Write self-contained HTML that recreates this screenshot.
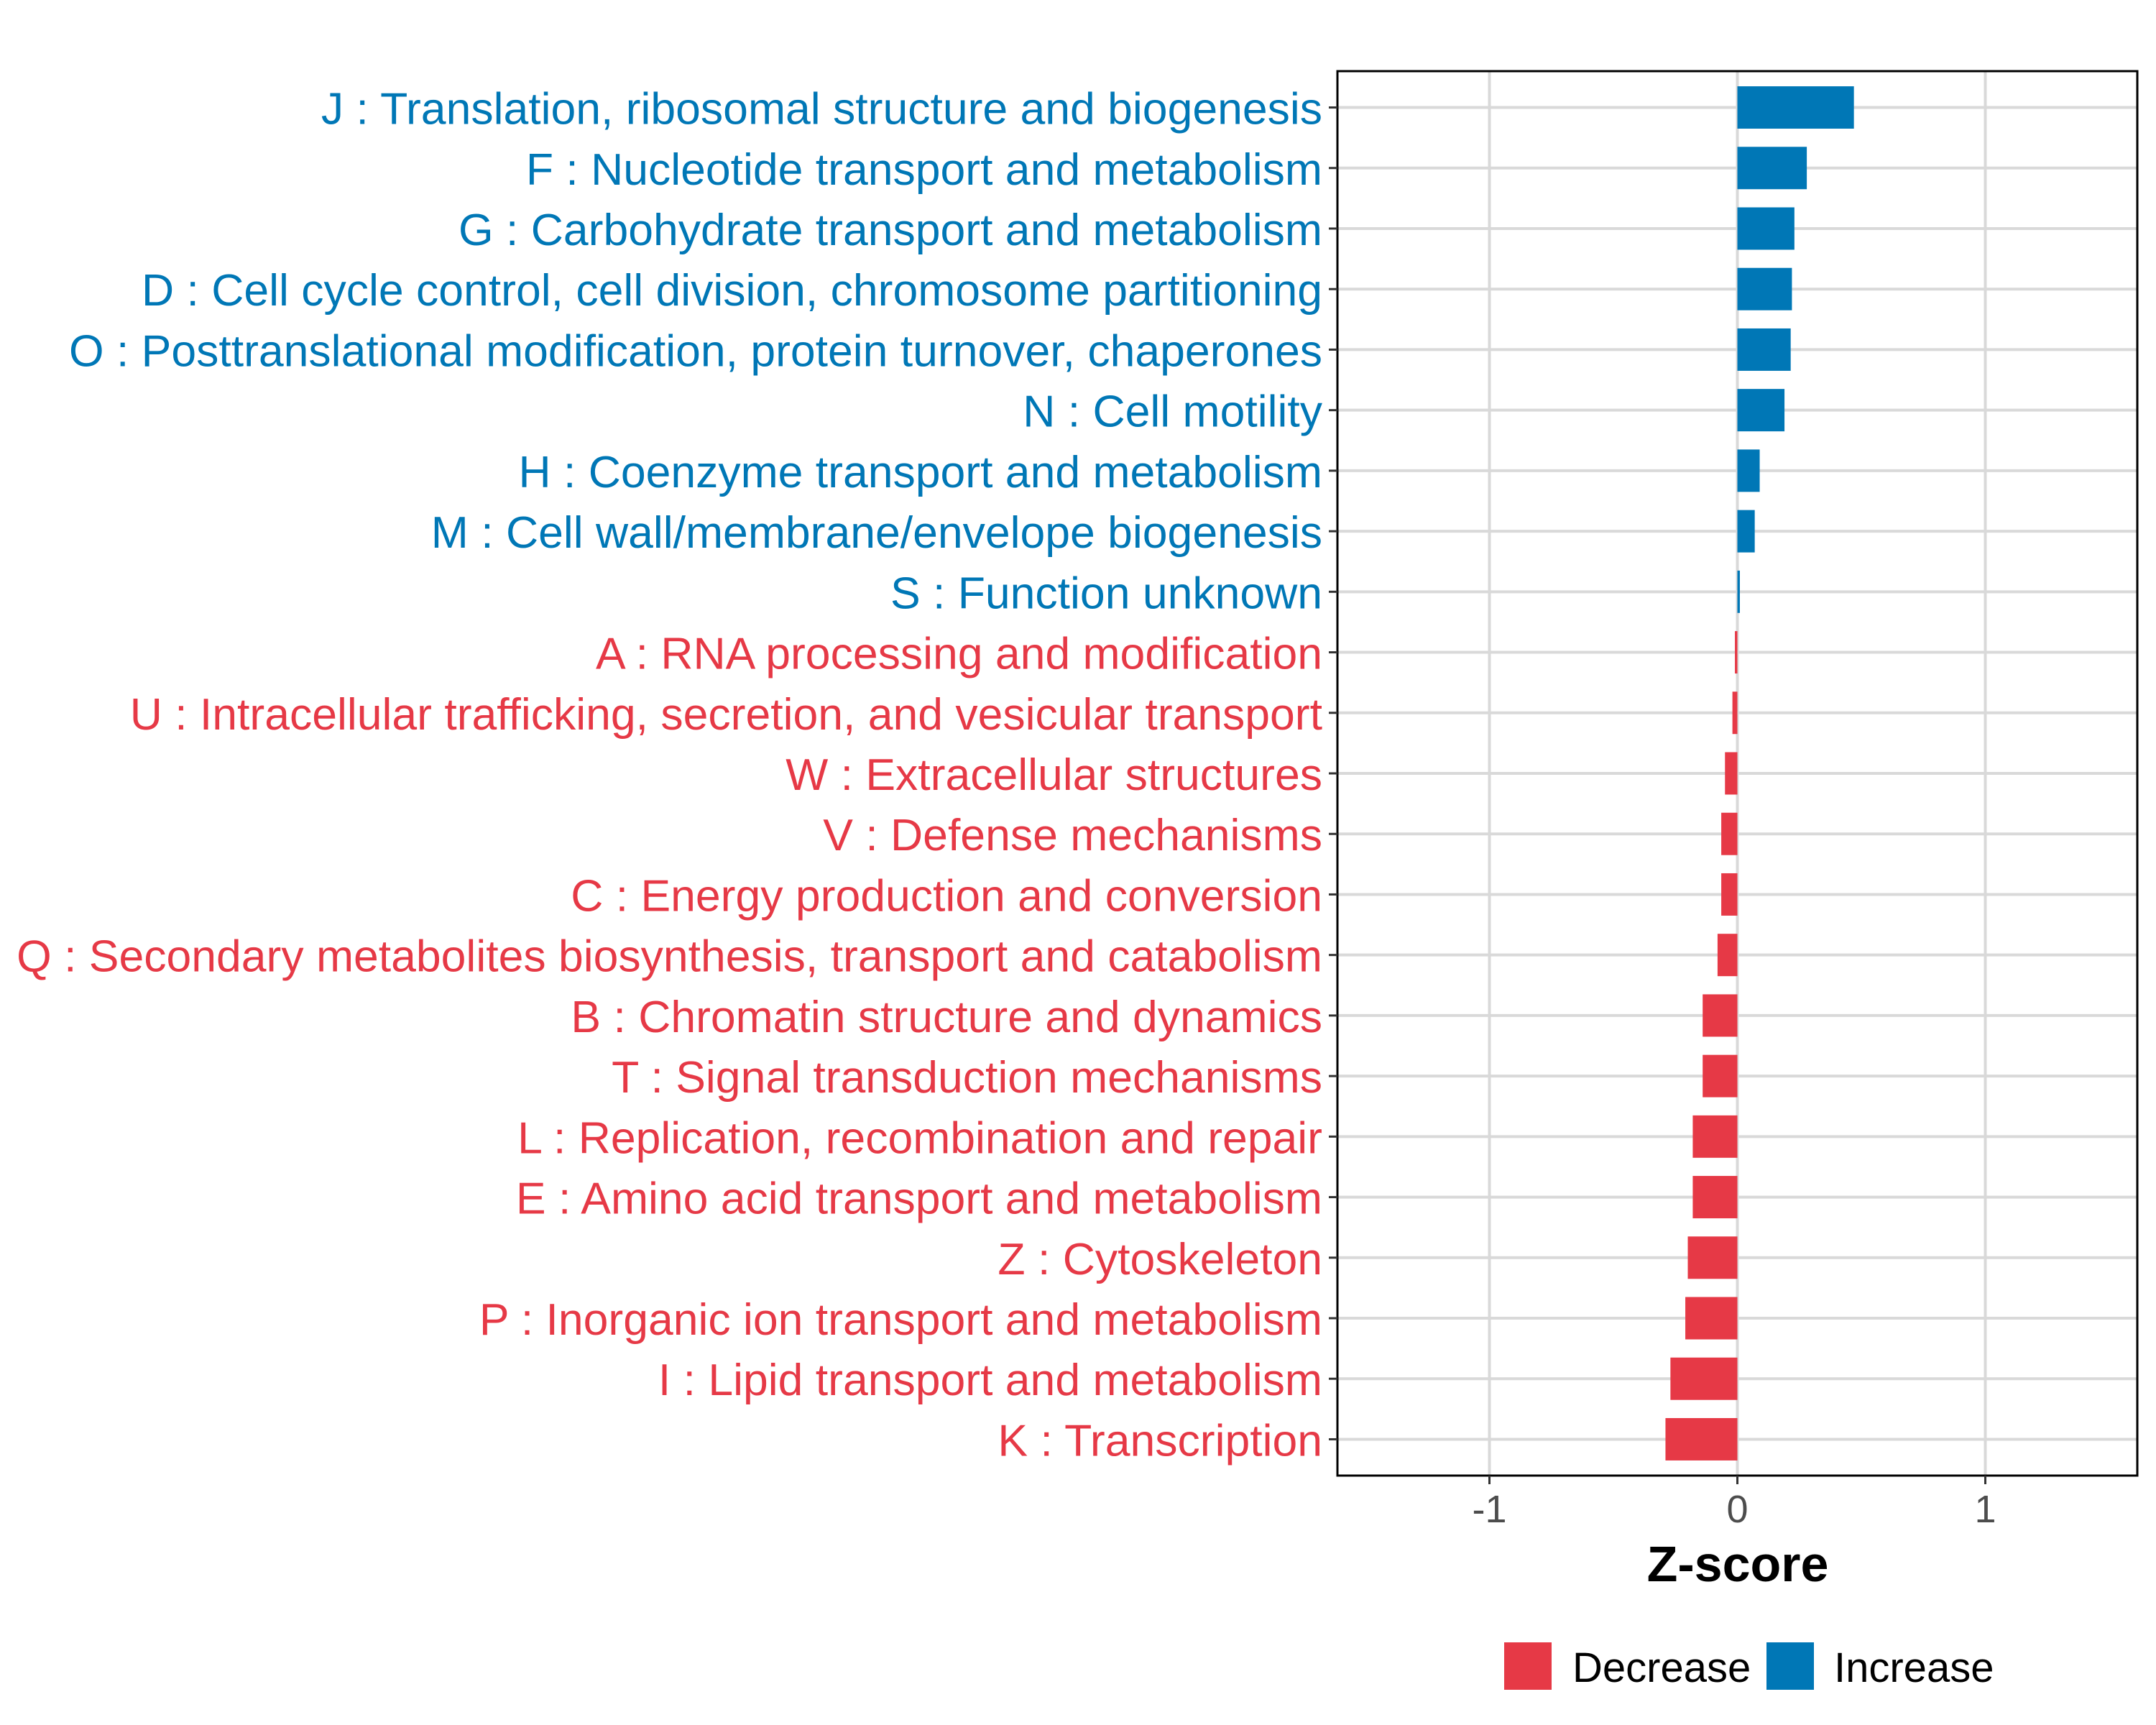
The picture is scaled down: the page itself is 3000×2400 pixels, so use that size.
<!DOCTYPE html>
<html><head><meta charset="utf-8"><style>html,body{margin:0;padding:0;background:#fff}svg{display:block}</style></head>
<body>
<svg id="chart" width="3000" height="2400" viewBox="0 0 3000 2400" xmlns="http://www.w3.org/2000/svg" font-family="Liberation Sans, Arial, sans-serif">
<rect x="0" y="0" width="3000" height="2400" fill="#fff"/>
<g id="grid"></g>
<g id="bars"></g>
<rect x="1861" y="99" width="1113" height="1954" fill="none" stroke="#000" stroke-width="3"/>
<g id="ylabels"></g>
<g id="xaxis"></g>
<text x="2418" y="2200" text-anchor="middle" font-size="70" font-weight="bold" fill="#000">Z-score</text>
<g>
<rect x="2093" y="2285" width="66" height="66" fill="#e63946"/>
<text x="2188" y="2340" font-size="58" fill="#000">Decrease</text>
<rect x="2458" y="2285" width="66" height="66" fill="#0077b6"/>
<text x="2552" y="2340" font-size="58" fill="#000">Increase</text>
</g>
<script>
const categories = ["J : Translation, ribosomal structure and biogenesis","F : Nucleotide transport and metabolism","G : Carbohydrate transport and metabolism","D : Cell cycle control, cell division, chromosome partitioning","O : Posttranslational modification, protein turnover, chaperones","N : Cell motility","H : Coenzyme transport and metabolism","M : Cell wall/membrane/envelope biogenesis","S : Function unknown","A : RNA processing and modification","U : Intracellular trafficking, secretion, and vesicular transport","W : Extracellular structures","V : Defense mechanisms","C : Energy production and conversion","Q : Secondary metabolites biosynthesis, transport and catabolism","B : Chromatin structure and dynamics","T : Signal transduction mechanisms","L : Replication, recombination and repair","E : Amino acid transport and metabolism","Z : Cytoskeleton","P : Inorganic ion transport and metabolism","I : Lipid transport and metabolism","K : Transcription"];
const zscores = [0.47,0.28,0.23,0.22,0.215,0.19,0.09,0.07,0.01,-0.01,-0.02,-0.05,-0.065,-0.065,-0.08,-0.14,-0.14,-0.18,-0.18,-0.2,-0.21,-0.27,-0.29];
const xTicks = [-1,0,1];
const xTickLabels = ["-1","0","1"];
const NS="http://www.w3.org/2000/svg";
const X0=1861,X1=2974,Y0=99,Y1=2053,XMIN=-1.613,XMAX=1.613;
function xs(v){return X0+(v-XMIN)/(XMAX-XMIN)*(X1-X0);}
const step=(Y1-Y0)/(categories.length-1+1.2);
function ys(i){return Y0+0.6*step+i*step;}
function mk(tag,attrs,parent){const e=document.createElementNS(NS,tag);for(const k in attrs)e.setAttribute(k,attrs[k]);parent.appendChild(e);return e;}
const grid=document.getElementById('grid'),bars=document.getElementById('bars'),yl=document.getElementById('ylabels'),xa=document.getElementById('xaxis');
xTicks.forEach((t,i)=>{
 const l=mk('line',{x1:xs(t),x2:xs(t),y1:Y0,y2:Y1,stroke:'#d9d9d9','stroke-width':4},grid);
 
 
 const tk=mk('line',{x1:xs(t),x2:xs(t),y1:Y1,y2:Y1+12,stroke:'#333','stroke-width':3},xa);
 
 
 const tx=mk('text',{x:xs(t),y:2118,'text-anchor':'middle','font-size':54,fill:'#4d4d4d'},xa);
 tx.textContent=xTickLabels[i];
 
 
});
categories.forEach((c,i)=>{
 const y=ys(i);
 const g=mk('line',{x1:X0,x2:X1,y1:y,y2:y,stroke:'#d9d9d9','stroke-width':4},grid);
 
 
 const v=zscores[i];
 const col=v>=0?'#0077b6':'#e63946';
 const bx=Math.min(xs(0),xs(v)),bw=Math.abs(xs(v)-xs(0));
 const b=mk('rect',{x:bx,y:y-step*0.35,width:Math.max(bw,2),height:step*0.7,fill:col},bars);
 
 
 const tk=mk('line',{x1:X0-12,x2:X0,y1:y,y2:y,stroke:'#333','stroke-width':3},yl);
 
 
 const t=mk('text',{x:1840,y:y+23,'text-anchor':'end','font-size':62.5,fill:col},yl);
 t.textContent=c;
 
 
});
</script>
</svg>
</body></html>
